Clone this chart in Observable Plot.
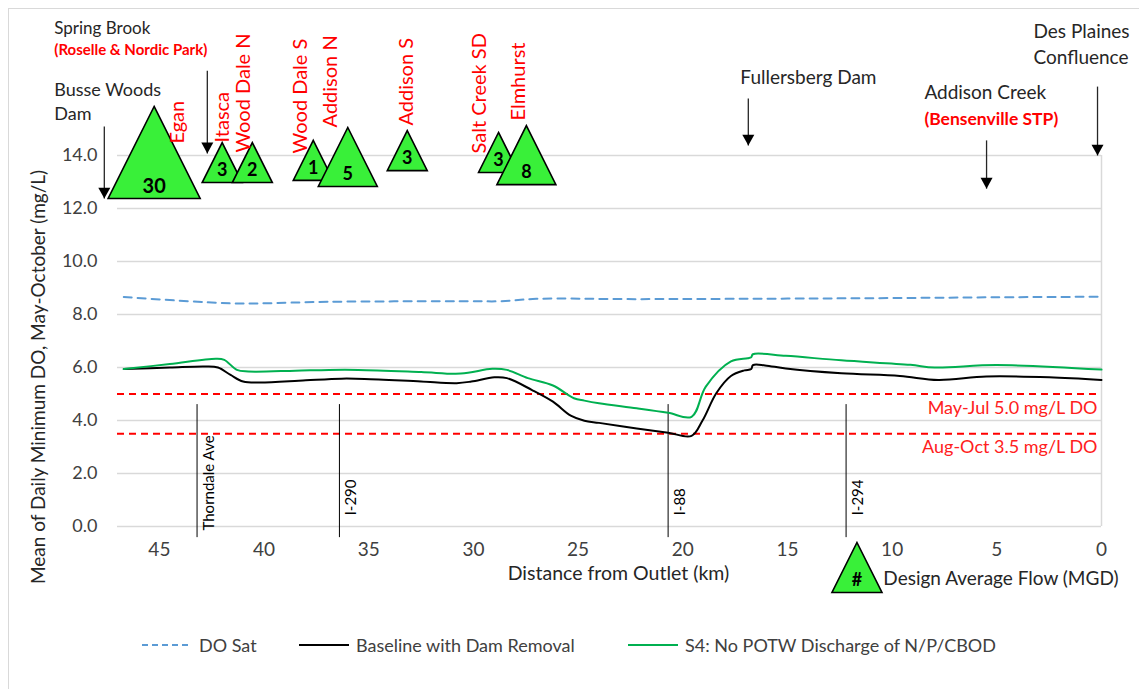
<!DOCTYPE html>
<html><head><meta charset="utf-8">
<script src="https://cdn.jsdelivr.net/npm/d3@7"></script>
<script src="https://cdn.jsdelivr.net/npm/@observablehq/plot@0.6"></script>
<style>
html,body{margin:0;padding:0;background:#fff;overflow:hidden;}
#wrap{position:relative;width:1139px;height:689px;font-family:Lato, sans-serif;overflow:hidden;}
#border{position:absolute;left:8px;top:8px;width:1200px;height:800px;border:1.5px solid #d9d9d9;box-sizing:border-box;}
#chart{position:absolute;left:0;top:0;}
#legend{position:absolute;top:634px;left:0;width:1139px;height:22px;font-size:18px;color:#404040;}
.item{position:absolute;top:0;display:flex;align-items:center;height:22px;white-space:nowrap;}
.item svg{margin-right:7px;}
</style></head><body>
<div id="wrap"><div id="border"></div><div id="chart"></div><div id="legend"></div></div>
<script>
// ---- Data ----
const kmSat = [46.7, 43.6, 41.6, 40.2, 36.9, 30.1, 28.7, 27.0, 22.2, 15, 10, 5, 0];
const doSat = [8.66, 8.5, 8.42, 8.42, 8.48, 8.5, 8.5, 8.59, 8.58, 8.6, 8.62, 8.65, 8.67];

const kmBaseline = [46.7,44.5,42.8,42.2,41.6,41.0,40.2,38.0,36.3,35.2,32.5,30.8,30.1,29.0,28.4,27.2,26.2,25.35,24.7,24.0,22.2,20.7,19.58,19.05,18.4,17.7,17.06,16.73,16.65,16.07,15.08,12.43,9.63,7.8,5.5,2.5,0];
const doBaseline = [5.94,6.0,6.04,6.0,5.72,5.47,5.43,5.52,5.58,5.57,5.47,5.41,5.47,5.63,5.6,5.15,4.71,4.18,3.99,3.91,3.7,3.54,3.42,4.01,5.03,5.68,5.89,5.94,6.09,6.08,5.96,5.78,5.68,5.53,5.66,5.63,5.53];

const kmS4 = [46.7,44.5,42.3,41.9,41.3,40.75,38.5,36.9,35.5,32.5,30.6,29.1,28.4,27.4,26.2,25.2,24.7,24.0,22.2,20.7,19.58,18.9,17.7,16.9,16.73,16.65,15.08,12.43,9.13,7.97,5.0,0];
const doS4 = [5.94,6.13,6.33,6.29,5.91,5.85,5.88,5.91,5.91,5.83,5.77,5.95,5.91,5.6,5.32,4.84,4.75,4.65,4.46,4.29,4.14,5.28,6.23,6.35,6.39,6.5,6.44,6.27,6.1,6.0,6.09,5.92];

const seriesNames = ["DO Sat", "Baseline with Dam Removal", "S4: No POTW Discharge of N/P/CBOD"];

const stdValues = [5.0, 3.5];
const stdLabels = ["May-Jul 5.0 mg/L DO", "Aug-Oct 3.5 mg/L DO"];
const stdLabelY = [4.46, 2.99];

const roadNames = ["Thorndale Ave", "I-290", "I-88", "I-294"];
const roadKm = [43.2, 36.4, 20.7, 12.2];
const roadLabelY = [-0.15, 0.42, 0.42, 0.42];
const roadSpan = [-0.42, 4.6];

const siteNames = ["Egan", "Itasca", "Wood Dale N", "Wood Dale S", "Addison N", "Addison S", "Salt Creek SD", "Elmhurst"];
const siteKm = [45.25, 42.0, 40.56, 37.65, 36.0, 33.16, 28.8, 27.47];
const siteFlow = [30, 3, 2, 1, 5, 3, 3, 8];
const siteLevel = [12.38, 12.98, 12.98, 13.06, 12.83, 13.43, 13.36, 12.9];
const siteLabelKm = [44.15, 42.0, 41.0, 38.27, 36.84, 33.2, 29.72, 27.86];
const siteLabelY = [14.45, 14.49, 14.11, 14.08, 15.06, 15.13, 14.08, 15.32];

const arrowKm = [47.63, 42.71, 16.87, 5.49, 0.19];
const arrowTop = [15.09, 17.2, 16.15, 14.57, 16.6];
const arrowTip = [12.38, 14.08, 14.38, 12.75, 14.0];

const noteText = ["Spring Brook", "Busse Woods", "Dam", "Fullersberg Dam", "Addison Creek", "Des Plaines", "Confluence"];
const noteKm = [50.02, 50.02, 50.02, 17.25, 8.46, 3.25, 3.25];
const noteY = [18.79, 16.47, 15.57, 16.92, 16.38, 18.68, 17.68];
const redNoteText = ["(Roselle & Nordic Park)", "(Bensenville STP)"];
const redNoteKm = [50.02, 8.46];
const redNoteY = [17.96, 15.38];

const flowKeyKm = 11.68, flowKeyLevel = -2.49;
const flowKeyText = "Design Average Flow (MGD)";
const flowKeyTextKm = 10.42, flowKeyTextY = -1.96;

const yTicks = [0, 2, 4, 6, 8, 10, 12, 14];
const xTicks = [0, 5, 10, 15, 20, 25, 30, 35, 40, 45];
const yLabel = "Mean of Daily Minimum DO, May-October (mg/L)";
const xLabel = "Distance from Outlet (km)";

// ---- Tables ----
const sat = kmSat.map((km, i) => ({km, v: doSat[i]}));
const base = kmBaseline.map((km, i) => ({km, v: doBaseline[i]}));
const s4 = kmS4.map((km, i) => ({km, v: doS4[i]}));
const roads = roadNames.map((name, i) => ({name, km: roadKm[i], ly: roadLabelY[i]}));
const sites = siteNames.map((name, i) => ({name, km: siteKm[i], flow: siteFlow[i], base: siteLevel[i], lkm: siteLabelKm[i], ly: siteLabelY[i]}));
const arrows = arrowKm.map((km, i) => ({km, top: arrowTop[i], tip: arrowTip[i]}));
const notes = noteText.map((t, i) => ({t, km: noteKm[i], y: noteY[i]}));
const redNotes = redNoteText.map((t, i) => ({t, km: redNoteKm[i], y: redNoteY[i]}));
const stds = stdLabels.map((t, i) => ({t, y: stdLabelY[i]}));

// ---- Symbols & styles ----
const triUp = {draw(ctx, size) {const r = Math.sqrt(size / Math.PI); ctx.moveTo(0, -2 * r); ctx.lineTo(r, 0); ctx.lineTo(-r, 0); ctx.closePath();}};
const headDown = {draw(ctx, size) {const r = Math.sqrt(size / Math.PI); ctx.moveTo(0, 0); ctx.lineTo(r, -1.8 * r); ctx.lineTo(-r, -1.8 * r); ctx.closePath();}};
const rFor = f => f >= 20 ? 46 : f >= 5 ? 29.5 : 20;
const GREEN_FILL = "#39f039";
const noteSize = t => t === "Spring Brook" ? 17 : t === "Busse Woods" || t === "Dam" ? 18 : 19;
const redNoteSize = t => t.startsWith("(Roselle") ? 15 : 17.5;

const chart = Plot.plot({
  width: 1139, height: 610,
  marginLeft: 117, marginRight: 38, marginTop: 155, marginBottom: 84,
  x: {domain: [47, 0]},
  y: {domain: [0, 14]},
  r: {type: "linear", domain: [0, 100], range: [0, 100]},
  style: {fontFamily: "Lato, sans-serif", fontSize: "18px", color: "#404040", background: "transparent", overflow: "visible"},
  marks: [
    Plot.gridY(yTicks, {stroke: "#d9d9d9", strokeOpacity: 1, strokeWidth: 1.3}),
    Plot.ruleX([0], {stroke: "#d9d9d9", strokeWidth: 1.5}),
    Plot.axisY({ticks: yTicks, tickSize: 0, tickPadding: 20, tickFormat: d => d.toFixed(1), label: null, fontSize: 18}),
    Plot.axisX({ticks: xTicks, tickSize: 0, tickPadding: 16, label: null, fontSize: 19}),
    Plot.text([yLabel], {text: d => d, frameAnchor: "left", textAnchor: "middle", dx: -79, dy: 36, rotate: -90, fontSize: 19, fill: "#262626"}),
    Plot.text([xLabel], {text: d => d, frameAnchor: "bottom", textAnchor: "middle", dx: 9, dy: 53, fontSize: 19.5, fill: "#262626"}),
    Plot.ruleY(stdValues, {stroke: "#ff0000", strokeWidth: 2, strokeDasharray: "7,5"}),
    Plot.text(stds, {x: 0, y: "y", text: "t", textAnchor: "end", dx: -4, fill: "#ff2020", fontSize: 18}),
    Plot.ruleX(roads, {x: "km", y1: roadSpan[0], y2: roadSpan[1], stroke: "#000", strokeWidth: 1}),
    Plot.text(roads, {x: "km", y: "ly", text: "name", rotate: -90, textAnchor: "start", dx: 12, fill: "#000", fontSize: 15}),
    Plot.line(sat, {x: "km", y: "v", stroke: "#5b9bd5", strokeWidth: 2, strokeDasharray: "8,6", curve: "catmull-rom"}),
    Plot.line(base, {x: "km", y: "v", stroke: "#000000", strokeWidth: 2, curve: "catmull-rom"}),
    Plot.line(s4, {x: "km", y: "v", stroke: "#00b050", strokeWidth: 2, curve: "catmull-rom"}),
    Plot.dot(sites, {x: "km", y: "base", r: d => rFor(d.flow), symbol: triUp, fill: GREEN_FILL, stroke: "#000", strokeWidth: 1.6, sort: null}),
    Plot.text(sites, {x: "km", y: "base", text: d => String(d.flow), dy: -12, fontWeight: "bold", fontSize: d => d.flow >= 20 ? 20 : 18, fill: "#000"}),
    Plot.text(sites, {x: "lkm", y: "ly", text: "name", rotate: -90, textAnchor: "start", fill: "#ff0000", fontSize: 20}),
    Plot.dot([{km: flowKeyKm, v: flowKeyLevel}], {x: "km", y: "v", r: 25, symbol: triUp, fill: GREEN_FILL, stroke: "#000", strokeWidth: 1.6}),
    Plot.text([{km: flowKeyKm, v: flowKeyLevel}], {x: "km", y: "v", text: () => "#", dy: -12, fontWeight: "bold", fontSize: 18, fill: "#000"}),
    Plot.text([flowKeyText], {x: flowKeyTextKm, y: flowKeyTextY, text: d => d, textAnchor: "start", fontSize: 19, fill: "#262626"}),
    Plot.link(arrows, {x1: "km", x2: "km", y1: "top", y2: "tip", stroke: "#262626", strokeWidth: 1.3}),
    Plot.dot(arrows, {x: "km", y: "tip", r: 6, symbol: headDown, fill: "#000", stroke: "none"}),
    Plot.text(notes, {x: "km", y: "y", text: "t", textAnchor: "start", fontSize: d => noteSize(d.t), fill: "#262626"}),
    Plot.text(redNotes, {x: "km", y: "y", text: "t", textAnchor: "start", fontSize: d => redNoteSize(d.t), fontWeight: "bold", fill: "#ff0000"})
  ]
});
document.getElementById("chart").appendChild(chart);

// ---- Legend ----
const legendStyles = [
  {color: "#5b9bd5", dash: "6,4", left: 142},
  {color: "#000000", dash: null, left: 299},
  {color: "#00b050", dash: null, left: 628}
];
const legend = document.getElementById("legend");
seriesNames.forEach((name, i) => {
  const s = legendStyles[i];
  const item = document.createElement("div");
  item.className = "item";
  item.style.left = s.left + "px";
  item.innerHTML = `<svg width="50" height="6"><line x1="0" x2="50" y1="3" y2="3" stroke="${s.color}" stroke-width="2" ${s.dash ? `stroke-dasharray="${s.dash}"` : ""}/></svg><span>${name}</span>`;
  legend.appendChild(item);
});
</script>
</body></html>
